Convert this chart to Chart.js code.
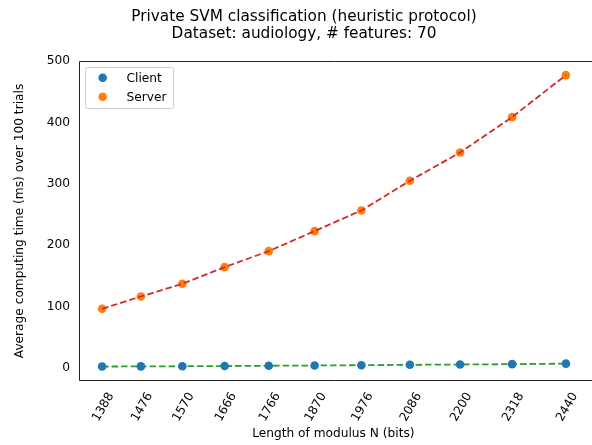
<!DOCTYPE html>
<html>
<head>
<meta charset="utf-8">
<script src="https://cdn.jsdelivr.net/npm/chart.js@4.4.1/dist/chart.umd.min.js"></script>
<style>
  html, body { margin: 0; padding: 0; background: #fff; }
  #wrap { width: 592px; height: 445px; position: relative; }
</style>
</head>
<body>
<div id="wrap"><canvas id="c" width="592" height="445"></canvas></div>
<script>
const modulusBits = [1388, 1476, 1570, 1666, 1766, 1870, 1976, 2086, 2200, 2318, 2440];
const clientMs = [2.1, 2.3, 2.6, 2.9, 3.3, 3.8, 4.3, 4.9, 5.4, 6.0, 6.8];
const serverMs = [96.2, 116.3, 137, 164.2, 190.3, 223, 256.6, 305, 351.2, 408.9, 477.4];
const yTickValues = [0, 100, 200, 300, 400, 500];
const titleLines = ['Private SVM classification (heuristic protocol)', 'Dataset: audiology, # features: 70'];
const xLabel = 'Length of modulus N (bits)';
const yLabel = 'Average computing time (ms) over 100 trials';
const legendNames = ['Client', 'Server'];

const FONT = "'DejaVu Sans', sans-serif";
const FS = 12.2;
const toXY = (ys) => modulusBits.map((x, i) => ({ x: x, y: ys[i] }));

const titleText = {
  id: 'titleText',
  afterDraw(chart) {
    const ctx = chart.ctx;
    ctx.save();
    ctx.font = '15.3px ' + FONT;
    ctx.fillStyle = '#000';
    ctx.textAlign = 'center';
    ctx.textBaseline = 'middle';
    titleLines.forEach((line, i) => ctx.fillText(line, 304, 16.7 + i * 16.9));
    ctx.restore();
  }
};

const legendBox = {
  id: 'legendBox',
  afterDraw(chart) {
    const ctx = chart.ctx;
    const a = chart.chartArea;
    const x0 = Math.round(a.left) + 6, y0 = Math.round(a.top) + 6, w = 88, h = 41;
    ctx.save();
    ctx.fillStyle = 'rgba(255,255,255,0.8)';
    ctx.strokeStyle = '#cccccc';
    ctx.lineWidth = 1;
    ctx.beginPath();
    if (ctx.roundRect) ctx.roundRect(x0 + 0.5, y0 + 0.5, w, h, 2); else ctx.rect(x0 + 0.5, y0 + 0.5, w, h);
    ctx.fill();
    ctx.stroke();
    const colors = ['#1f77b4', '#ff7f0e'];
    ctx.font = FS + 'px ' + FONT;
    ctx.textBaseline = 'middle';
    ctx.textAlign = 'left';
    legendNames.forEach((name, i) => {
      const cy = y0 + 10.7 + i * 19;
      ctx.fillStyle = colors[i];
      ctx.beginPath();
      ctx.arc(x0 + 17.7, cy, 4.3, 0, Math.PI * 2);
      ctx.fill();
      ctx.fillStyle = '#000';
      ctx.fillText(name, x0 + 41.5, cy + 1);
    });
    ctx.restore();
  }
};

const frame = {
  id: 'frame',
  afterDraw(chart) {
    const a = chart.chartArea, ctx = chart.ctx;
    const l = Math.round(a.left) + 0.5, t = Math.round(a.top) + 0.5, b = Math.round(a.bottom) - 0.5;
    ctx.save();
    ctx.strokeStyle = '#222';
    ctx.lineWidth = 1;
    ctx.beginPath();
    ctx.moveTo(chart.width, t); ctx.lineTo(l, t); ctx.lineTo(l, b); ctx.lineTo(chart.width, b);
    ctx.stroke();
    ctx.restore();
  }
};

new Chart(document.getElementById('c'), {
  type: 'scatter',
  data: {
    datasets: [
      { label: 'Client fit', data: toXY(clientMs), showLine: true, borderColor: '#2ca02c', borderWidth: 1.8, borderDash: [6.5, 3], pointRadius: 0, fill: false, order: 4 },
      { label: 'Client', data: toXY(clientMs), backgroundColor: '#1f77b4', borderColor: '#1f77b4', pointRadius: 4.3, borderWidth: 0, order: 3 },
      { label: 'Server', data: toXY(serverMs), backgroundColor: '#ff7f0e', borderColor: '#ff7f0e', pointRadius: 4.3, borderWidth: 0, order: 2 },
      { label: 'Server fit', data: toXY(serverMs), showLine: true, borderColor: '#d62728', borderWidth: 1.8, borderDash: [6.5, 3], pointRadius: 0, fill: false, order: 1 }
    ]
  },
  options: {
    responsive: false,
    animation: false,
    devicePixelRatio: 1,
    layout: { padding: { left: 0, right: 0, top: 61, bottom: 1 } },
    plugins: {
      legend: { display: false },
      tooltip: { enabled: false },
      title: { display: false }
    },
    scales: {
      x: {
        type: 'linear',
        min: 1335.6,
        max: 2489.4,
        afterBuildTicks: (scale) => { scale.ticks = modulusBits.map(v => ({ value: v })); },
        afterFit: (scale) => { scale.height = 63; },
        grid: { display: false, drawTicks: true, tickLength: 5, tickColor: '#222' },
        border: { display: false },
        ticks: {
          color: '#000', font: { family: FONT, size: FS }, padding: 4, labelOffset: 9,
          minRotation: 60, maxRotation: 60, autoSkip: false,
          callback: (v) => String(v)
        },
        title: { display: true, text: xLabel, color: '#000', font: { family: FONT, size: FS }, padding: { top: 0, bottom: 3 } }
      },
      y: {
        min: -21.5,
        max: 500.4,
        afterBuildTicks: (scale) => { scale.ticks = yTickValues.map(v => ({ value: v })); },
        afterFit: (scale) => { scale.width = 79; },
        grid: { display: false, drawTicks: true, tickLength: 5, tickColor: '#222' },
        border: { display: false },
        ticks: { color: '#000', font: { family: FONT, size: FS }, padding: 4, callback: (v) => String(v) },
        title: { display: true, text: yLabel, color: '#000', font: { family: FONT, size: FS }, padding: { top: 13, bottom: 0 } }
      }
    }
  },
  plugins: [titleText, legendBox, frame]
});
</script>
</body>
</html>
